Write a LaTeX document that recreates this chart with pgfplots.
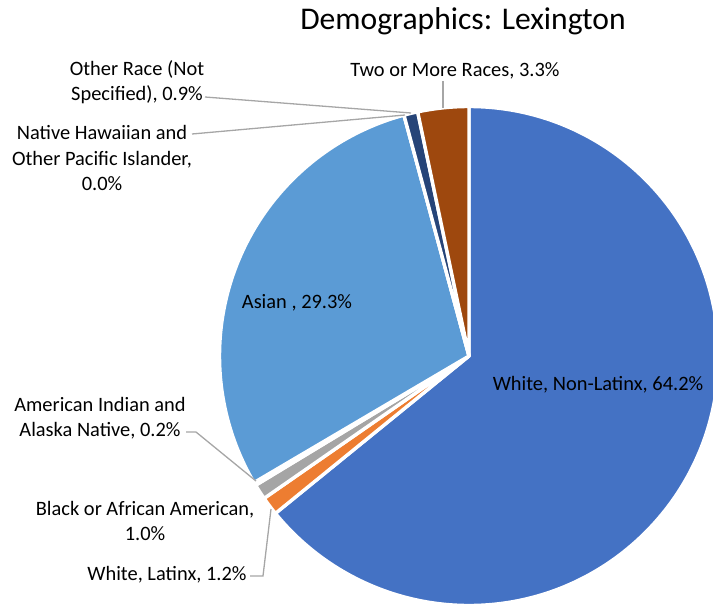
\documentclass[border=0pt]{standalone}
\usepackage{pgfplots}
\pgfplotsset{compat=1.18}
\usepackage{pgfplotstable}
\usepackage{fontspec}
\setmainfont{Carlito}

\definecolor{cA}{HTML}{4472C4}
\definecolor{cB}{HTML}{ED7D31}
\definecolor{cC}{HTML}{A5A5A5}
\definecolor{cD}{HTML}{FFC000}
\definecolor{cE}{HTML}{5B9BD5}
\definecolor{cF}{HTML}{70AD47}
\definecolor{cG}{HTML}{264478}
\definecolor{cH}{HTML}{9E480E}
\definecolor{leadgray}{HTML}{A6A6A6}

% share of each group, clockwise from 12 o'clock
\pgfplotstableread{
value col
64.2 cA
1.2 cB
1.0 cC
0.2 cD
29.3 cE
0.0 cF
0.9 cG
3.3 cH
}\piedata

\begin{document}
\begin{tikzpicture}[
	lab/.style={font=\fontsize{20.5}{25.5}\selectfont, align=center, inner sep=0pt},
	lead/.style={draw=leadgray, line width=1.3bp},
	]
\begin{axis}[
	width=713bp, height=605bp, scale only axis,
	xmin=0, xmax=713, ymin=0, ymax=605,
	y dir=reverse,
	hide axis, clip=false,
	]
	\def\scum{0}
	\pgfplotsforeachungrouped \i in {0,...,7}{%
		\pgfplotstablegetelem{\i}{value}\of\piedata \let\sv\pgfplotsretval
		\pgfplotstablegetelem{\i}{col}\of\piedata \let\scol\pgfplotsretval
		\pgfmathsetmacro\sa{90-\scum/100.1*360}
		\pgfmathsetmacro\sb{90-(\scum+\sv)/100.1*360}
		\edef\tmp{\noexpand\filldraw[fill=\scol, draw=white, line width=3.4bp, line join=round]
			(axis cs:469,356) -- ++(\sa:249.5bp) arc[start angle=\sa, end angle=\sb, radius=249.5bp] -- cycle;}
		\tmp
		\pgfmathsetmacro\scum{\scum+\sv}
	}

	\node[font=\fontsize{31.7}{38}\selectfont, anchor=base] at (axis cs:463,30) {Demographics: Lexington};

	\node[lab] at (axis cs:455,71) {Two or More Races, 3.3\%};
	\node[lab] at (axis cs:137,82) {Other Race (Not\\Specified), 0.9\%};
	\node[lab] at (axis cs:102,158) {Native Hawaiian and\\Other Pacific Islander,\\0.0\%};
	\node[lab] at (axis cs:297,303) {Asian , 29.3\%};
	\node[lab] at (axis cs:598,385) {White, Non-Latinx, 64.2\%};
	\node[lab] at (axis cs:100,418) {American Indian and\\Alaska Native, 0.2\%};
	\node[lab] at (axis cs:145,521) {Black or African American,\\1.0\%};
	\node[lab] at (axis cs:167,575) {White, Latinx, 1.2\%};

	\draw[lead] (axis cs:443,81) -- (axis cs:443,108);
	\draw[lead] (axis cs:205,97) -- (axis cs:411,113);
	\draw[lead] (axis cs:192,134) -- (axis cs:405,115);
	\draw[lead] (axis cs:186,432) -- (axis cs:196,432) -- (axis cs:256,481);
	\draw[lead] (axis cs:250,576) -- (axis cs:263,576) -- (axis cs:271,509);
\end{axis}
\pgfresetboundingbox
\path (current axis.south west) rectangle (current axis.north east);
\end{tikzpicture}
\end{document}
